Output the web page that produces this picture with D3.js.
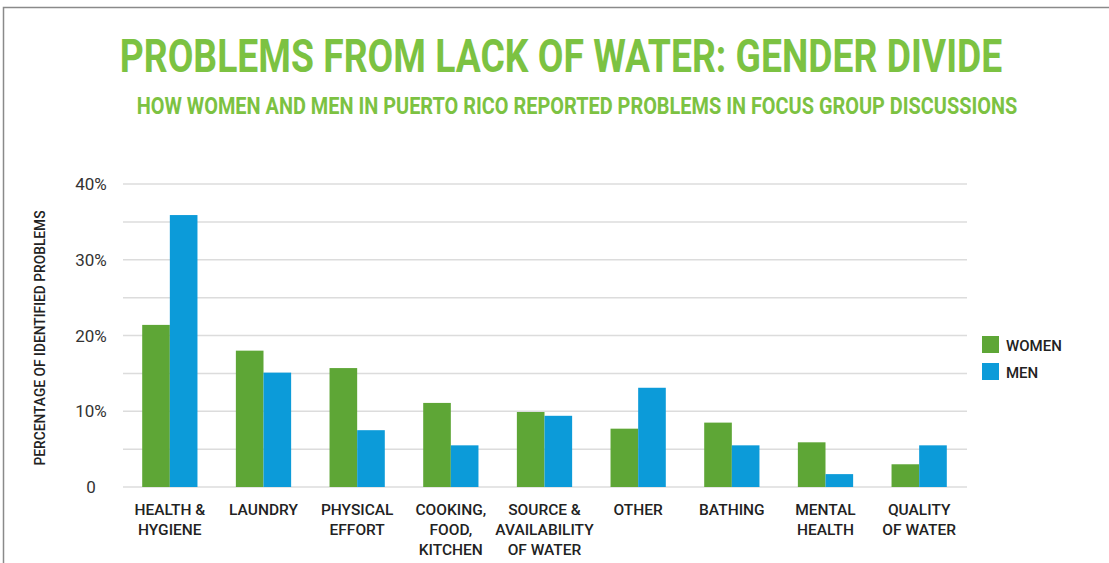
<!DOCTYPE html>
<html>
<head>
<meta charset="utf-8">
<script src="https://cdn.jsdelivr.net/npm/d3@7"></script>
<style>
  body { margin: 0; background: #fff; }
  svg text { font-family: Roboto, sans-serif; }
</style>
</head>
<body>
<svg id="chart" width="1109" height="563"></svg>
<script>
const categories = [
  ["HEALTH &", "HYGIENE"],
  ["LAUNDRY"],
  ["PHYSICAL", "EFFORT"],
  ["COOKING,", "FOOD,", "KITCHEN"],
  ["SOURCE &", "AVAILABILITY", "OF WATER"],
  ["OTHER"],
  ["BATHING"],
  ["MENTAL", "HEALTH"],
  ["QUALITY", "OF WATER"]
];
const women = [21.4, 18.0, 15.7, 11.1, 9.9, 7.7, 8.5, 5.9, 3.0];
const men = [35.9, 15.1, 7.5, 5.5, 9.4, 13.1, 5.5, 1.7, 5.5];
const series = ["WOMEN", "MEN"];
const yTicks = [0, 10, 20, 30, 40];
const gridTicks = [0, 5, 10, 15, 20, 25, 30, 35, 40];

const colors = { WOMEN: "#5ea636", MEN: "#0c9bd9" };
const titleGreen = "#7cc242";

const svg = d3.select("#chart");

// frame
svg.append("path")
  .attr("d", "M3.5,563 V7.5 H1109")
  .attr("fill", "none")
  .attr("stroke", "#8a8a8a")
  .attr("stroke-width", 1.5);

// squeeze a centered text horizontally to a given width (condensed look)
function fitText(sel, cx, cy, width) {
  const w = sel.node().getComputedTextLength();
  const sx = Math.min(1, width / w);
  sel.attr("transform", `translate(${cx},${cy}) scale(${sx},1)`);
}

const title = svg.append("text")
  .attr("text-anchor", "middle")
  .attr("fill", titleGreen)
  .attr("font-size", 46).attr("font-weight", "bold")
  .text("PROBLEMS FROM LACK OF WATER: GENDER DIVIDE");
fitText(title, 561, 72, 883);

const subtitle = svg.append("text")
  .attr("text-anchor", "middle")
  .attr("fill", titleGreen)
  .attr("font-size", 23).attr("font-weight", "bold")
  .text("HOW WOMEN AND MEN IN PUERTO RICO REPORTED PROBLEMS IN FOCUS GROUP DISCUSSIONS");
fitText(subtitle, 577, 114, 881);

const x0 = d3.scaleBand()
  .domain(d3.range(categories.length))
  .range([123, 966])
  .paddingInner(0.41)
  .paddingOuter(0.205);

const x1 = d3.scaleBand()
  .domain(series)
  .range([0, x0.bandwidth()]);

const y = d3.scaleLinear().domain([0, 40]).range([487, 184]);

// grid
svg.append("g")
  .selectAll("line")
  .data(gridTicks)
  .join("line")
  .attr("x1", 123).attr("x2", 967)
  .attr("y1", d => y(d)).attr("y2", d => y(d))
  .attr("stroke", "#dcdcdc")
  .attr("stroke-width", 1.5);

// y tick labels
svg.append("g")
  .selectAll("text")
  .data(yTicks)
  .join("text")
  .attr("x", 91)
  .attr("y", d => y(d) + 6)
  .attr("text-anchor", "middle")
  .attr("fill", "#333")
  .attr("font-size", 17)
  .text(d => d === 0 ? "0" : d + "%");

svg.append("text")
  .attr("transform", "translate(45,338) rotate(-90)")
  .attr("text-anchor", "middle")
  .attr("fill", "#222")
  .attr("font-size", 14)
  .attr("font-weight", 500)
  .attr("textLength", 255).attr("lengthAdjust", "spacingAndGlyphs")
  .text("PERCENTAGE OF IDENTIFIED PROBLEMS");

// bars
const rows = categories.map((c, i) => ({ i, WOMEN: women[i], MEN: men[i] }));
const groups = svg.append("g")
  .selectAll("g")
  .data(rows)
  .join("g")
  .attr("transform", d => `translate(${x0(d.i)},0)`);

groups.selectAll("rect")
  .data(d => series.map(s => ({ s, v: d[s] })))
  .join("rect")
  .attr("x", d => x1(d.s))
  .attr("width", x1.bandwidth())
  .attr("y", d => y(d.v))
  .attr("height", d => y(0) - y(d.v))
  .attr("fill", d => colors[d.s]);

// category labels
const labels = svg.append("g")
  .selectAll("text")
  .data(categories)
  .join("text")
  .attr("x", (d, i) => x0(i) + x0.bandwidth() / 2)
  .attr("y", 515)
  .attr("text-anchor", "middle")
  .attr("fill", "#222")
  .attr("font-size", 15.5)
  .attr("font-weight", 500);

labels.selectAll("tspan")
  .data(d => d)
  .join("tspan")
  .attr("x", function () { return this.parentNode.getAttribute("x"); })
  .attr("dy", (d, j) => j === 0 ? 0 : 20)
  .text(d => d);

// legend
const legend = svg.append("g")
  .selectAll("g")
  .data(series)
  .join("g")
  .attr("transform", (d, i) => `translate(982,${336 + i * 27})`);

legend.append("rect")
  .attr("width", 17).attr("height", 17)
  .attr("fill", d => colors[d]);

legend.append("text")
  .attr("x", 24).attr("y", 15)
  .attr("fill", "#222")
  .attr("font-size", 15)
  .attr("font-weight", 500)
  .text(d => d);
</script>
</body>
</html>
